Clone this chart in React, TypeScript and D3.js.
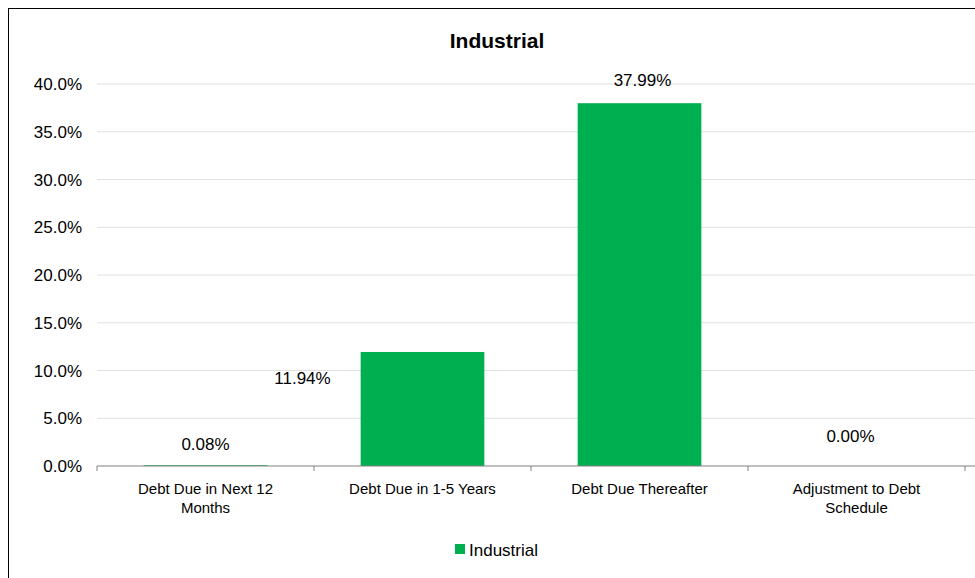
import React from "react";
import * as d3 from "d3";

const categories = [
  ["Debt Due in Next 12", "Months"],
  ["Debt Due in 1-5 Years"],
  ["Debt Due Thereafter"],
  ["Adjustment to Debt", "Schedule"],
];
const values = [0.08, 11.94, 37.99, 0.0];
const yTicks = [0, 5, 10, 15, 20, 25, 30, 35, 40];
// label offsets relative to bar top-centre, as placed in the source chart
const labelOffsets = [
  [0, -15],
  [-120, 32],
  [3, -17],
  [-6, -24],
];

const W = 975;
const H = 578;
const margin = { left: 97, right: 10, top: 84, bottom: 112 };
const font = "Arial, 'Liberation Sans', sans-serif";

export default function App() {
  const x = d3
    .scaleBand<number>()
    .domain(d3.range(categories.length))
    .range([margin.left, W - margin.right])
    .paddingInner(0.43)
    .paddingOuter(0.215);
  const y = d3.scaleLinear().domain([0, 40]).range([H - margin.bottom, margin.top]);
  const band = (W - margin.left - margin.right) / categories.length;

  React.useEffect(() => {
    document.body.style.margin = "0";
  }, []);

  return (
    <svg width={W} height={H} style={{ display: "block", fontFamily: font }}>
      <rect x={8.5} y={8.5} width={W + 10} height={H + 10} fill="white" stroke="black" />
      <text x={497} y={48} textAnchor="middle" fontSize={21} fontWeight="bold">
        Industrial
      </text>
      {yTicks.map((t) => (
        <g key={t}>
          {t > 0 && (
            <line x1={margin.left} x2={W - margin.right + 10} y1={y(t)} y2={y(t)} stroke="#e0e0e0" />
          )}
          <text x={82} y={y(t) + 6} textAnchor="end" fontSize={17}>
            {t.toFixed(1)}%
          </text>
        </g>
      ))}
      {values.map((v, i) => (
        <rect key={i} x={x(i)} y={y(v)} width={x.bandwidth()} height={y(0) - y(v)} fill="#00b050" />
      ))}
      <line x1={margin.left} x2={W} y1={y(0)} y2={y(0)} stroke="#808080" />
      {d3.range(categories.length + 1).map((i) => (
        <line key={i} x1={margin.left + band * i} x2={margin.left + band * i} y1={y(0)} y2={y(0) + 5} stroke="#808080" />
      ))}
      {categories.map((c, i) => (
        <text key={i} x={x(i)! + x.bandwidth() / 2} y={494} textAnchor="middle" fontSize={15}>
          {c.map((l, j) => (
            <tspan key={j} x={x(i)! + x.bandwidth() / 2} dy={j ? 19 : 0}>
              {l}
            </tspan>
          ))}
        </text>
      ))}
      {values.map((v, i) => (
        <text
          key={i}
          x={x(i)! + x.bandwidth() / 2 + labelOffsets[i][0]}
          y={y(v) + labelOffsets[i][1]}
          textAnchor="middle"
          fontSize={17}
        >
          {v.toFixed(2)}%
        </text>
      ))}
      <rect x={455} y={544} width={10} height={10} fill="#00b050" />
      <text x={469} y={556} fontSize={17}>
        Industrial
      </text>
    </svg>
  );
}
